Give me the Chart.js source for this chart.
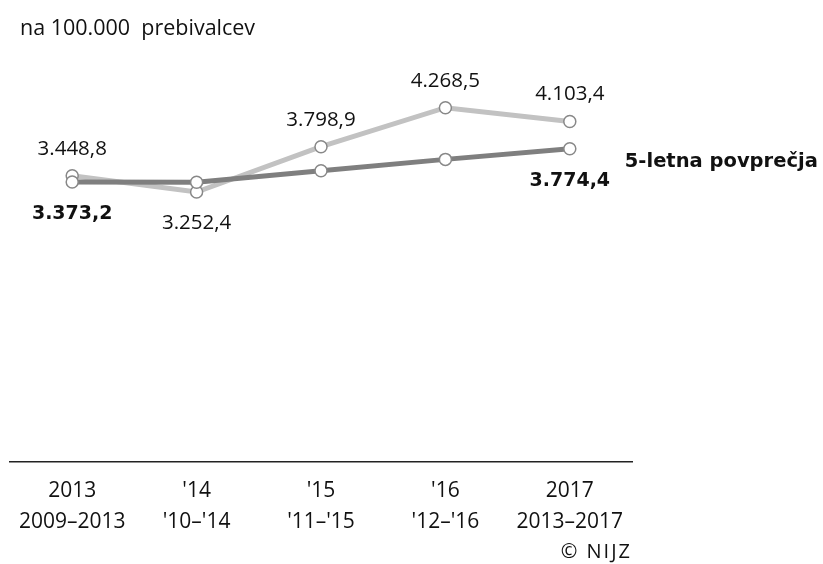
<!DOCTYPE html>
<html>
<head>
<meta charset="utf-8">
<script src="https://cdn.jsdelivr.net/npm/chart.js@4.4.1/dist/chart.umd.min.js"></script>
<style>
  body { margin: 0; background: #fff; }
  #wrap { position: relative; width: 823px; height: 564px; }
  #naslov { position: absolute; left: 20px; top: 12px; font: 21.5px "Open Sans", sans-serif; color: #111; white-space: pre; }
  #vir { position: absolute; right: 191px; top: 537px; font: 20px "Open Sans", sans-serif; letter-spacing: 2px; color: #111; }
</style>
</head>
<body>
<div id="wrap">
  <canvas id="graf" width="823" height="564"></canvas>
  <div id="naslov">na 100.000  prebivalcev</div>
  <div id="vir">© NIJZ</div>
</div>
<script>
// leta in obdobja (dve vrstici pod osjo)
const leta = ["2013", "'14", "'15", "'16", "2017"];
const obdobja = ["2009–2013", "'10–'14", "'11–'15", "'12–'16", "2013–2017"];

// na 100.000 prebivalcev
const letneVrednosti = [3448.8, 3252.4, 3798.9, 4268.5, 4103.4];
const povprecja = [3373.2, 3370, 3509, 3646, 3774.4];

// kateri podatki dobijo oznako
const oznakeLetne = [true, true, true, true, true];
const oznakePovprecja = [true, false, false, false, true];

const fmt = (v) => {
  const [cela, dec] = v.toFixed(1).split(".");
  return cela.replace(/\B(?=(\d{3})+(?!\d))/g, ".") + "," + dec;
};

const oznake = {
  id: "oznake",
  afterDatasetsDraw(chart) {
    const ctx = chart.ctx;
    ctx.save();
    ctx.textAlign = "center";
    ctx.textBaseline = "middle";
    ctx.fillStyle = "#111";

    // povprecja - krepko, pod tocko
    const m0 = chart.getDatasetMeta(0).data;
    ctx.font = "bold 19px 'DejaVu Sans'";
    m0.forEach((p, i) => {
      if (oznakePovprecja[i]) ctx.fillText(fmt(povprecja[i]), p.x, p.y + 32);
    });

    // letne vrednosti
    const m1 = chart.getDatasetMeta(1).data;
    ctx.font = "20.5px 'Open Sans'";
    m1.forEach((p, i) => {
      if (!oznakeLetne[i]) return;
      const spodaj = letneVrednosti[i] < povprecja[i];
      ctx.fillText(fmt(letneVrednosti[i]), p.x, spodaj ? p.y + 31 : p.y - 27);
    });

    // napis ob zadnjem povprecju
    const zadnja = m0[m0.length - 1];
    ctx.textAlign = "left";
    ctx.font = "bold 19.5px 'DejaVu Sans'";
    ctx.fillText("5-letna povprečja", zadnja.x + 55, zadnja.y + 13);
    ctx.restore();
  },
};

new Chart(document.getElementById("graf"), {
  type: "line",
  data: {
    labels: leta.map((l, i) => [l, obdobja[i]]),
    datasets: [
      {
        label: "5-letna povprečja",
        data: povprecja,
        borderColor: "#7f7f7f",
        borderWidth: 5,
        pointRadius: 6,
        pointBackgroundColor: "#fff",
        pointBorderColor: "#888",
        pointBorderWidth: 1.5,
        tension: 0,
      },
      {
        label: "Letno",
        data: letneVrednosti,
        borderColor: "#c2c2c2",
        borderWidth: 5,
        pointRadius: 6,
        pointBackgroundColor: "#fff",
        pointBorderColor: "#888",
        pointBorderWidth: 1.5,
        tension: 0,
      },
    ],
  },
  options: {
    responsive: false,
    animation: false,
    layout: { padding: { left: 10, right: 191, top: 47, bottom: 0 } },
    plugins: { legend: { display: false }, tooltip: { enabled: false } },
    scales: {
      y: { display: false, min: 0, max: 5000 },
      x: {
        offset: true,
        grid: { display: false, drawTicks: false },
        border: { display: true, color: "#222", width: 1.5 },
        ticks: {
          color: "#111",
          padding: 13,
          maxRotation: 0,
          font: { family: "'Open Sans'", size: 21, lineHeight: 1.48 },
        },
        afterFit(scale) {
          scale.height = 102;
        },
      },
    },
  },
  plugins: [oznake],
});
</script>
</body>
</html>
